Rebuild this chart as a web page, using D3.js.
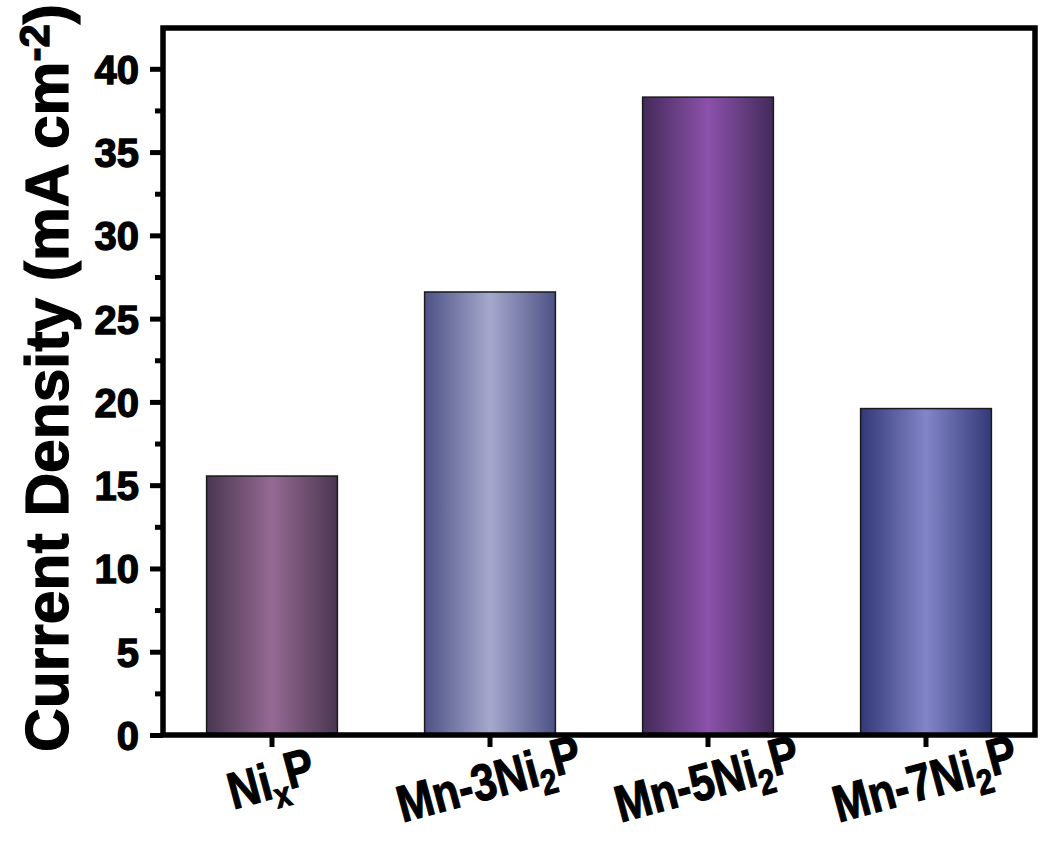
<!DOCTYPE html>
<html>
<head>
<meta charset="utf-8">
<script src="https://d3js.org/d3.v7.min.js"></script>
<style>
  body { margin: 0; background: #fff; }
  svg text { font-family: "Liberation Sans", Arial, sans-serif; font-weight: bold; fill: #000; stroke: #000; }
</style>
</head>
<body>
<div id="chart"></div>
<script>
// data
var samples = ["NixP", "Mn-3Ni2P", "Mn-5Ni2P", "Mn-7Ni2P"];
var labelMain = ["Ni", "Mn-3Ni", "Mn-5Ni", "Mn-7Ni"];
var labelSub = ["x", "2", "2", "2"];
var labelTail = ["P", "P", "P", "P"];
var density = [15.55, 26.6, 38.3, 19.6];
var edgeColors = ["#4a3650", "#4d5286", "#432a5a", "#333878"];
var midColors = ["#946a94", "#a6a8cc", "#8b52ab", "#8286c8"];
var yTicks = [0, 5, 10, 15, 20, 25, 30, 35, 40];
var yMinor = [2.5, 7.5, 12.5, 17.5, 22.5, 27.5, 32.5, 37.5];

var W = 1041, H = 843;
var margin = {top: 28, right: 6, bottom: 108, left: 163};
var width = W - margin.left - margin.right,
    height = H - margin.top - margin.bottom;

var svg = d3.select("#chart").append("svg")
    .attr("width", W)
    .attr("height", H);

var defs = svg.append("defs");
samples.forEach(function(s, i) {
    var g = defs.append("linearGradient")
        .attr("id", "grad" + i)
        .attr("x1", "0%").attr("x2", "100%")
        .attr("y1", "0%").attr("y2", "0%");
    g.append("stop").attr("offset", "0%").attr("stop-color", edgeColors[i]);
    g.append("stop").attr("offset", "50%").attr("stop-color", midColors[i]);
    g.append("stop").attr("offset", "100%").attr("stop-color", edgeColors[i]);
});

var plot = svg.append("g")
    .attr("transform", "translate(" + margin.left + "," + margin.top + ")");

var x = d3.scaleBand().domain(samples).range([0, width])
    .paddingInner(0.4).paddingOuter(0.2);
var y = d3.scaleLinear().domain([0, 42.45]).range([height, 0]);

// bars
plot.selectAll("rect.bar")
    .data(samples)
  .enter().append("rect")
    .attr("class", "bar")
    .attr("x", function(d) { return x(d); })
    .attr("width", x.bandwidth())
    .attr("y", function(d, i) { return y(density[i]); })
    .attr("height", function(d, i) { return height - y(density[i]); })
    .attr("fill", function(d, i) { return "url(#grad" + i + ")"; })
    .attr("stroke", "#1a1a1a")
    .attr("stroke-width", 1.5);

// minor ticks on y
var yMinorAxis = d3.axisLeft(y).tickValues(yMinor).tickSize(8).tickFormat("");
plot.append("g").attr("class", "minor").call(yMinorAxis);

// y axis
var yAxis = d3.axisLeft(y).tickValues(yTicks).tickSize(13).tickPadding(11);
var gy = plot.append("g").call(yAxis);
gy.selectAll("text").style("font-size", "40px").style("stroke-width", "1.3px").attr("dy", "0.36em");

// x axis
var xAxis = d3.axisBottom(x).tickSize(12).tickFormat("");
plot.append("g")
    .attr("transform", "translate(0," + height + ")")
    .call(xAxis);

plot.selectAll(".domain").remove();
plot.selectAll(".tick line").attr("stroke", "#000").attr("stroke-width", 5);

// frame
plot.append("rect")
    .attr("x", 0).attr("y", 0)
    .attr("width", width).attr("height", height)
    .attr("fill", "none")
    .attr("stroke", "#000")
    .attr("stroke-width", 5.5);

// x labels, rotated with subscripts
samples.forEach(function(s, i) {
    var cx = x(s) + x.bandwidth() / 2;
    var t = plot.append("text")
        .attr("transform", "translate(" + (cx + 4) + "," + (height + 63) + ") rotate(-15) scale(0.92,1.1)")
        .attr("text-anchor", "middle")
        .style("font-size", "47px")
        .style("stroke-width", "1px");
    t.append("tspan").text(labelMain[i]);
    t.append("tspan").attr("dy", "0.3em").style("font-size", "32px").text(labelSub[i]);
    t.append("tspan").attr("dy", "-0.3em").text(labelTail[i]);
});

// y title
var title = svg.append("text")
    .attr("transform", "translate(68," + 378 + ") rotate(-90)")
    .attr("text-anchor", "middle")
    .style("font-size", "60.5px")
    .style("stroke-width", "1.2px");
title.append("tspan").text("Current Density (mA cm");
title.append("tspan").attr("dy", "-0.45em").style("font-size", "42px").text("-2");
title.append("tspan").attr("dy", "0.3em").text(")");
</script>
</body>
</html>
